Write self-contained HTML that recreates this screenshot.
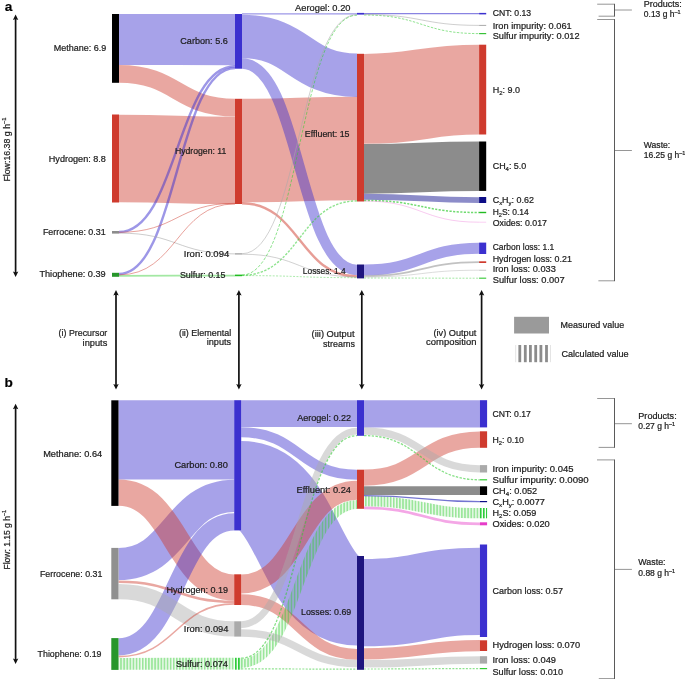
<!DOCTYPE html>
<html><head><meta charset="utf-8"><style>
html,body{margin:0;padding:0;background:#fff;}
body{width:685px;height:679px;overflow:hidden;position:relative;}
svg{position:absolute;left:0;top:0;will-change:transform;}
text{font-family:"Liberation Sans",sans-serif;fill:#1c1c1c;stroke:#1c1c1c;stroke-width:0.22px;}
</style></head><body>
<svg width="685" height="679" viewBox="0 0 685 679">
<defs>
<pattern id="gstripe" patternUnits="userSpaceOnUse" x="2.43" y="0" width="3.099" height="10">
<rect x="0" y="0" width="3.099" height="10" fill="#33cc33" fill-opacity="0.07"/>
<rect x="0" y="0" width="1.75" height="10" fill="#33cc33" fill-opacity="0.45"/>
</pattern>
<pattern id="gstripeD" patternUnits="userSpaceOnUse" x="2.5" y="0" width="3.099" height="10">
<rect x="0" y="0" width="1.9" height="10" fill="#2ecc3a"/>
</pattern>
</defs>
<path d="M242,150.55C299.5,150.55 299.5,148.50 357,148.50" fill="none" stroke="rgb(207,59,46)" stroke-width="103.45" stroke-opacity="0.45" />
<path d="M364,98.85C421.55,98.85 421.55,89.60 479.1,89.60" fill="none" stroke="rgb(207,59,46)" stroke-width="89.95" stroke-opacity="0.45" />
<path d="M241.2,485.70C299.1,485.70 299.1,600.75 357,600.75" fill="none" stroke="rgb(59,48,207)" stroke-width="89.45" stroke-opacity="0.45" />
<path d="M119,158.60C177.0,158.60 177.0,160.40 235,160.40" fill="none" stroke="rgb(207,59,46)" stroke-width="87.50" stroke-opacity="0.45" />
<path d="M364,602.65C421.95,602.65 421.95,591.30 479.9,591.30" fill="none" stroke="rgb(59,48,207)" stroke-width="87.25" stroke-opacity="0.45" />
<path d="M118.5,439.95C176.35,439.95 176.35,439.95 234.2,439.95" fill="none" stroke="rgb(59,48,207)" stroke-width="79.30" stroke-opacity="0.45" />
<path d="M119,39.50C177.0,39.50 177.0,39.60 235,39.60" fill="none" stroke="rgb(59,48,207)" stroke-width="51.10" stroke-opacity="0.45" />
<path d="M364,168.85C421.55,168.85 421.55,166.20 479.1,166.20" fill="none" stroke="#000" stroke-width="49.65" stroke-opacity="0.45" />
<path d="M242,36.50C299.5,36.50 299.5,75.30 357,75.30" fill="none" stroke="rgb(59,48,207)" stroke-width="43.40" stroke-opacity="0.45" />
<path d="M118.5,564.00C176.35,564.00 176.35,495.80 234.2,495.80" fill="none" stroke="rgb(59,48,207)" stroke-width="32.20" stroke-opacity="0.45" />
<path d="M364,413.80C421.95,413.80 421.95,413.80 479.9,413.80" fill="none" stroke="rgb(59,48,207)" stroke-width="27.20" stroke-opacity="0.45" />
<path d="M241.2,413.60C299.1,413.60 299.1,413.60 357,413.60" fill="none" stroke="rgb(59,48,207)" stroke-width="26.80" stroke-opacity="0.45" />
<path d="M118.5,492.70C176.35,492.70 176.35,587.50 234.2,587.50" fill="none" stroke="rgb(207,59,46)" stroke-width="26.20" stroke-opacity="0.45" />
<path d="M241.2,583.95C299.1,583.95 299.1,490.20 357,490.20" fill="none" stroke="rgb(207,59,46)" stroke-width="18.85" stroke-opacity="0.45" />
<path d="M119,73.90C177.0,73.90 177.0,107.60 235,107.60" fill="none" stroke="rgb(207,59,46)" stroke-width="17.70" stroke-opacity="0.45" />
<path d="M118.5,646.85C176.35,646.85 176.35,521.85 234.2,521.85" fill="none" stroke="rgb(59,48,207)" stroke-width="17.20" stroke-opacity="0.45" />
<path d="M364,477.70C421.95,477.70 421.95,439.55 479.9,439.55" fill="none" stroke="rgb(207,59,46)" stroke-width="16.25" stroke-opacity="0.45" />
<path d="M118.5,591.65C176.35,591.65 176.35,628.90 234.2,628.90" fill="none" stroke="#aaaaaa" stroke-width="15.25" stroke-opacity="0.45" />
<path d="M118.5,663.85C176.35,663.85 176.35,663.65 234.2,663.65" fill="none" stroke="url(#gstripe)" stroke-width="11.90" stroke-opacity="1" />
<path d="M364,653.85C421.95,653.85 421.95,645.65 479.9,645.65" fill="none" stroke="rgb(207,59,46)" stroke-width="11.20" stroke-opacity="0.45" />
<path d="M364,269.90C421.55,269.90 421.55,248.30 479.1,248.30" fill="none" stroke="rgb(59,48,207)" stroke-width="11.00" stroke-opacity="0.45" />
<path d="M241.2,599.60C299.1,599.60 299.1,654.30 357,654.30" fill="none" stroke="rgb(207,59,46)" stroke-width="10.70" stroke-opacity="0.45" />
<path d="M242,63.55C299.5,63.55 299.5,269.90 357,269.90" fill="none" stroke="rgb(59,48,207)" stroke-width="10.45" stroke-opacity="0.45" />
<path d="M364,501.15C421.95,501.15 421.95,513.15 479.9,513.15" fill="none" stroke="url(#gstripe)" stroke-width="10.30" stroke-opacity="1" />
<path d="M241.2,432.25C299.1,432.25 299.1,474.75 357,474.75" fill="none" stroke="rgb(59,48,207)" stroke-width="10.00" stroke-opacity="0.45" />
<path d="M241.2,663.50C299.1,663.50 299.1,504.50 357,504.50" fill="none" stroke="url(#gstripe)" stroke-width="9.00" stroke-opacity="1" />
<path d="M364,490.55C421.95,490.55 421.95,490.65 479.9,490.65" fill="none" stroke="#000" stroke-width="8.80" stroke-opacity="0.45" />
<path d="M364,663.75C421.95,663.75 421.95,660.05 479.9,660.05" fill="none" stroke="#aaaaaa" stroke-width="7.50" stroke-opacity="0.45" />
<path d="M241.2,632.90C299.1,632.90 299.1,663.55 357,663.55" fill="none" stroke="#aaaaaa" stroke-width="7.45" stroke-opacity="0.45" />
<path d="M364,431.00C421.95,431.00 421.95,468.80 479.9,468.80" fill="none" stroke="#aaaaaa" stroke-width="7.30" stroke-opacity="0.45" />
<path d="M241.2,624.65C299.1,624.65 299.1,431.10 357,431.10" fill="none" stroke="#aaaaaa" stroke-width="6.85" stroke-opacity="0.45" />
<path d="M364,196.70C421.55,196.70 421.55,200.05 479.1,200.05" fill="none" stroke="#000087" stroke-width="5.85" stroke-opacity="0.45" />
<path d="M364,507.80C421.95,507.80 421.95,523.80 479.9,523.80" fill="none" stroke="#e63cc8" stroke-width="2.70" stroke-opacity="0.45" />
<path d="M118.5,581.8C176.35,581.8 176.35,601.8 234.2,601.8" fill="none" stroke="rgb(207,59,46)" stroke-width="2.6" stroke-opacity="0.45" />
<path d="M119,232.0C177.0,232.0 177.0,66.3 235,66.3" fill="none" stroke="rgb(59,48,207)" stroke-width="2.4" stroke-opacity="0.5" />
<path d="M119,274.0C177.0,274.0 177.0,68.1 235,68.1" fill="none" stroke="rgb(59,48,207)" stroke-width="2.4" stroke-opacity="0.5" />
<path d="M242,203.2C299.5,203.2 299.5,276.4 357,276.4" fill="none" stroke="rgb(207,59,46)" stroke-width="2.4" stroke-opacity="0.5" />
<path d="M119,275.8C177.0,275.8 177.0,275.6 235,275.6" fill="none" stroke="#33cc33" stroke-width="1.8" stroke-opacity="0.45" />
<path d="M364,276.0C421.55,276.0 421.55,262.2 479.1,262.2" fill="none" stroke="#999999" stroke-width="1.7" stroke-opacity="0.6" />
<path d="M118.5,656.6C176.35,656.6 176.35,603.9 234.2,603.9" fill="none" stroke="rgb(207,59,46)" stroke-width="1.6" stroke-opacity="0.45" />
<path d="M364,200.4C421.55,200.4 421.55,212.5 479.1,212.5" fill="none" stroke="#33cc33" stroke-width="1.5" stroke-opacity="0.7" stroke-dasharray="2.2,1.4" />
<path d="M242,275.3C299.5,275.3 299.5,200.9 357,200.9" fill="none" stroke="#33cc33" stroke-width="1.4" stroke-opacity="0.55" stroke-dasharray="2.4,1.4" />
<path d="M242,13.9C299.5,13.9 299.5,13.9 357,13.9" fill="none" stroke="rgb(59,48,207)" stroke-width="1.3" stroke-opacity="0.5" />
<path d="M364,13.7C421.55,13.7 421.55,13.7 479.1,13.7" fill="none" stroke="rgb(59,48,207)" stroke-width="1.3" stroke-opacity="0.6" />
<path d="M364,435.6C421.95,435.6 421.95,479.8 479.9,479.8" fill="none" stroke="#33cc33" stroke-width="1.3" stroke-opacity="0.6" stroke-dasharray="2.4,1.4" />
<path d="M241.2,658.2C299.1,658.2 299.1,435.6 357,435.6" fill="none" stroke="#33cc33" stroke-width="1.25" stroke-opacity="0.6" stroke-dasharray="2.6,1.5" />
<path d="M241.2,668.9C299.1,668.9 299.1,669.1 357,669.1" fill="none" stroke="#33cc33" stroke-width="1.2" stroke-opacity="0.55" stroke-dasharray="2,1.4" />
<path d="M364,669.0C421.95,669.0 421.95,668.6 479.9,668.6" fill="none" stroke="#33cc33" stroke-width="1.2" stroke-opacity="0.55" stroke-dasharray="2,1.4" />
<path d="M364,495.6C421.95,495.6 421.95,501.6 479.9,501.6" fill="none" stroke="#2a2ab8" stroke-width="1.1" stroke-opacity="0.65" />
<path d="M119,233.1C177.0,233.1 177.0,253.9 235,253.9" fill="none" stroke="#aaaaaa" stroke-width="1.0" stroke-opacity="0.6" />
<path d="M364,15.0C421.55,15.0 421.55,33.6 479.1,33.6" fill="none" stroke="#33cc33" stroke-width="1.0" stroke-opacity="0.55" stroke-dasharray="2.4,1.4" />
<path d="M242,253.7C299.5,253.7 299.5,14.6 357,14.6" fill="none" stroke="#aaaaaa" stroke-width="0.9" stroke-opacity="0.6" />
<path d="M242,254.2C299.5,254.2 299.5,276.9 357,276.9" fill="none" stroke="#aaaaaa" stroke-width="0.9" stroke-opacity="0.6" />
<path d="M242,275.6C299.5,275.6 299.5,277.7 357,277.7" fill="none" stroke="#33cc33" stroke-width="0.9" stroke-opacity="0.45" stroke-dasharray="2,1.4" />
<path d="M364,278.0C421.55,278.0 421.55,278.2 479.1,278.2" fill="none" stroke="#33cc33" stroke-width="0.9" stroke-opacity="0.5" stroke-dasharray="2,1.4" />
<path d="M119,232.3C177.0,232.3 177.0,203.3 235,203.3" fill="none" stroke="rgb(207,59,46)" stroke-width="0.8" stroke-opacity="0.6" />
<path d="M119,274.9C177.0,274.9 177.0,203.9 235,203.9" fill="none" stroke="rgb(207,59,46)" stroke-width="0.8" stroke-opacity="0.6" />
<path d="M242,275.0C299.5,275.0 299.5,15.2 357,15.2" fill="none" stroke="#33cc33" stroke-width="0.8" stroke-opacity="0.7" stroke-dasharray="3,1.6" />
<path d="M364,14.5C421.55,14.5 421.55,25.4 479.1,25.4" fill="none" stroke="#999999" stroke-width="0.8" stroke-opacity="0.6" />
<path d="M364,201.0C421.55,201.0 421.55,222.2 479.1,222.2" fill="none" stroke="#e63cc8" stroke-width="0.6" stroke-opacity="0.45" />
<path d="M364,277.0C421.55,277.0 421.55,270.2 479.1,270.2" fill="none" stroke="#aaaaaa" stroke-width="0.6" stroke-opacity="0.7" />
<rect x="112" y="14" width="7" height="68.8" fill="#000" />
<rect x="112" y="114.5" width="7" height="88.0" fill="rgb(207,59,46)" />
<rect x="112" y="231" width="7" height="2.5999999999999943" fill="#8c8c8c" />
<rect x="112" y="272.8" width="7" height="4.0" fill="#27962b" />
<rect x="235" y="14" width="7" height="54.7" fill="rgb(59,48,207)" />
<rect x="235" y="98.8" width="7" height="105.2" fill="rgb(207,59,46)" />
<rect x="235" y="253.3" width="7" height="1.1999999999999886" fill="#999999" />
<rect x="235" y="274.6" width="7" height="1.599999999999966" fill="#22bb22" />
<rect x="357" y="12.9" width="7" height="1.6999999999999993" fill="rgb(59,48,207)" />
<rect x="357" y="53.8" width="7" height="147.7" fill="rgb(207,59,46)" />
<rect x="357" y="264.5" width="7" height="13.899999999999977" fill="#1e157e" />
<rect x="479.1" y="12.9" width="7.099999999999966" height="1.5" fill="rgb(59,48,207)" />
<rect x="479.1" y="24.9" width="7.099999999999966" height="1.0" fill="#aaaaaa" />
<rect x="479.1" y="33.0" width="7.099999999999966" height="1.2000000000000028" fill="#22bb22" opacity="0.9"/>
<rect x="479.1" y="44.7" width="7.099999999999966" height="89.8" fill="rgb(207,59,46)" />
<rect x="479.1" y="141.5" width="7.099999999999966" height="49.400000000000006" fill="#000" />
<rect x="479.1" y="197.0" width="7.099999999999966" height="6.0" fill="#0c0c86" />
<rect x="479.1" y="211.8" width="7.099999999999966" height="1.3999999999999773" fill="#22bb22" />
<rect x="479.1" y="221.7" width="7.099999999999966" height="1.0" fill="#fbd0f4" />
<rect x="479.1" y="242.6" width="7.099999999999966" height="11.400000000000006" fill="rgb(59,48,207)" />
<rect x="479.1" y="261.3" width="7.099999999999966" height="1.6999999999999886" fill="rgb(207,59,46)" />
<rect x="479.1" y="269.8" width="7.099999999999966" height="0.8000000000000114" fill="#bbbbbb" />
<rect x="479.1" y="277.6" width="7.099999999999966" height="1.1999999999999886" fill="#44cc44" />
<rect x="111.3" y="400.3" width="7.200000000000003" height="105.59999999999997" fill="#000" />
<rect x="111.3" y="547.9" width="7.200000000000003" height="51.39999999999998" fill="#909090" />
<rect x="111.3" y="638.1" width="7.200000000000003" height="31.799999999999955" fill="#27962b" />
<rect x="234.2" y="400.2" width="7" height="130.2" fill="rgb(59,48,207)" />
<rect x="234.2" y="574.3" width="7" height="30.700000000000045" fill="rgb(207,59,46)" />
<rect x="234.2" y="621.3" width="7" height="15.300000000000068" fill="#aaaaaa" />
<rect x="234.2" y="657.8" width="7" height="11.900000000000091" fill="url(#gstripeD)" />
<rect x="357" y="400.2" width="7" height="35.60000000000002" fill="rgb(59,48,207)" />
<rect x="357" y="469.7" width="7" height="39.10000000000002" fill="rgb(207,59,46)" />
<rect x="357" y="556.0" width="7" height="113.79999999999995" fill="#1e157e" />
<rect x="479.9" y="400.2" width="7.2000000000000455" height="27.19999999999999" fill="rgb(59,48,207)" />
<rect x="479.9" y="431.3" width="7.2000000000000455" height="16.5" fill="rgb(207,59,46)" />
<rect x="479.9" y="465.1" width="7.2000000000000455" height="7.399999999999977" fill="#aaaaaa" />
<rect x="479.9" y="479.2" width="7.2000000000000455" height="1.1999999999999886" fill="#33cc33" />
<rect x="479.9" y="486.3" width="7.2000000000000455" height="8.699999999999989" fill="#000" />
<rect x="479.9" y="501.0" width="7.2000000000000455" height="1.1999999999999886" fill="#0c0c86" />
<rect x="479.9" y="508.0" width="7.2000000000000455" height="10.299999999999955" fill="url(#gstripeD)" />
<rect x="479.9" y="522.3" width="7.2000000000000455" height="3.0" fill="#e63cc8" />
<rect x="479.9" y="544.5" width="7.2000000000000455" height="92.5" fill="rgb(59,48,207)" />
<rect x="479.9" y="640.3" width="7.2000000000000455" height="10.700000000000045" fill="rgb(207,59,46)" />
<rect x="479.9" y="656.2" width="7.2000000000000455" height="7.399999999999977" fill="#aaaaaa" />
<rect x="479.9" y="668.0" width="7.2000000000000455" height="1.2000000000000455" fill="#33cc33" />

<g stroke="#8a8a8a" stroke-width="0.9" fill="none">
<path d="M597.2,4.2H614.3"/><path d="M598.6,16.2H614.3"/><path d="M614.3,10H631.9"/>
<path d="M597.2,19.5H614.3"/><path d="M598.4,280.8H614.3"/><path d="M614.3,150.5H631.9"/>
<path d="M597.2,398.5H614.3"/><path d="M598.6,447.4H614.3"/><path d="M614.3,423.7H631.9"/>
<path d="M597,459.9H614.3"/><path d="M598.8,678.6H614.3"/><path d="M614.3,569.4H631.9"/>
</g>
<g stroke="#5a5a5a" stroke-width="1" fill="none">
<path d="M614.5,3.8V16.6"/><path d="M614.5,19.1V281.2"/>
<path d="M614.5,398.1V447.8"/><path d="M614.5,459.5V679"/>
</g>
<g stroke="#111" stroke-width="1.7" fill="none">
<line x1="15.6" y1="18.5" x2="15.6" y2="273"/>
<line x1="15.6" y1="407.5" x2="15.6" y2="660"/>
<line x1="116" y1="294" x2="116" y2="385.5"/>
<line x1="238.9" y1="294" x2="238.9" y2="385.5"/>
<line x1="361.8" y1="294" x2="361.8" y2="385.5"/>
<line x1="481.6" y1="294" x2="481.6" y2="385.5"/>
</g>
<g fill="#111">
<path d="M15.6,14.5L18.3,20.1L15.6,19.1L12.899999999999999,20.1Z"/><path d="M15.6,277L18.3,271.4L15.6,272.4L12.899999999999999,271.4Z"/><path d="M15.6,403.7L18.3,409.3L15.6,408.3L12.899999999999999,409.3Z"/><path d="M15.6,664L18.3,658.4L15.6,659.4L12.899999999999999,658.4Z"/><path d="M116,290L118.7,295.6L116,294.6L113.3,295.6Z"/><path d="M116,389.5L118.7,383.9L116,384.9L113.3,383.9Z"/><path d="M238.9,290L241.6,295.6L238.9,294.6L236.20000000000002,295.6Z"/><path d="M238.9,389.5L241.6,383.9L238.9,384.9L236.20000000000002,383.9Z"/><path d="M361.8,290L364.5,295.6L361.8,294.6L359.1,295.6Z"/><path d="M361.8,389.5L364.5,383.9L361.8,384.9L359.1,383.9Z"/><path d="M481.6,290L484.3,295.6L481.6,294.6L478.90000000000003,295.6Z"/><path d="M481.6,389.5L484.3,383.9L481.6,384.9L478.90000000000003,383.9Z"/></g>

<rect x="514.1" y="316.8" width="34.9" height="16.7" fill="#9a9a9a"/>
<g fill="#8c8c8c">
<rect x="518.4" y="345" width="2.8" height="17.2"/>
<rect x="523.9" y="345" width="2.8" height="17.2"/>
<rect x="529.0" y="345" width="2.8" height="17.2"/>
<rect x="534.3" y="345" width="2.8" height="17.2"/>
<rect x="539.5" y="345" width="2.8" height="17.2"/>
<rect x="545.1" y="345" width="2.8" height="17.2"/>
</g>
<rect x="515.2" y="345" width="1" height="17.2" fill="#e4e4e4"/>
<rect x="550.0" y="345" width="1" height="17.2" fill="#e4e4e4"/>

<text x="106.3" y="51.3" text-anchor="end" font-size="9" textLength="52.5" lengthAdjust="spacingAndGlyphs" >Methane: 6.9</text>
<text x="105.9" y="161.6" text-anchor="end" font-size="9" textLength="57.1" lengthAdjust="spacingAndGlyphs" >Hydrogen: 8.8</text>
<text x="105.7" y="234.8" text-anchor="end" font-size="9" textLength="62.8" lengthAdjust="spacingAndGlyphs" >Ferrocene: 0.31</text>
<text x="105.7" y="277.1" text-anchor="end" font-size="9" textLength="66.3" lengthAdjust="spacingAndGlyphs" >Thiophene: 0.39</text>
<text x="227.8" y="43.8" text-anchor="end" font-size="9" textLength="47.5" lengthAdjust="spacingAndGlyphs" >Carbon: 5.6</text>
<text x="226.3" y="154.1" text-anchor="end" font-size="9" textLength="51.4" lengthAdjust="spacingAndGlyphs" >Hydrogen: 11</text>
<text x="229.2" y="256.9" text-anchor="end" font-size="9" textLength="45.4" lengthAdjust="spacingAndGlyphs" >Iron: 0.094</text>
<text x="225.5" y="278" text-anchor="end" font-size="9" textLength="45.6" lengthAdjust="spacingAndGlyphs" >Sulfur: 0.15</text>
<text x="350.5" y="10.7" text-anchor="end" font-size="9" textLength="55.4" lengthAdjust="spacingAndGlyphs" >Aerogel: 0.20</text>
<text x="349.5" y="136.9" text-anchor="end" font-size="9" textLength="44.7" lengthAdjust="spacingAndGlyphs" >Effluent: 15</text>
<text x="345.7" y="273.8" text-anchor="end" font-size="9" textLength="42.9" lengthAdjust="spacingAndGlyphs" >Losses: 1.4</text>
<text x="492.7" y="16.4" text-anchor="start" font-size="9" textLength="38.5" lengthAdjust="spacingAndGlyphs" >CNT: 0.13</text>
<text x="492.7" y="29.2" text-anchor="start" font-size="9" textLength="79" lengthAdjust="spacingAndGlyphs" >Iron impurity: 0.061</text>
<text x="492.7" y="38.6" text-anchor="start" font-size="9" textLength="86.9" lengthAdjust="spacingAndGlyphs" >Sulfur impurity: 0.012</text>
<text x="492.7" y="92.7" text-anchor="start" font-size="9" textLength="27.3" lengthAdjust="spacingAndGlyphs" >H<tspan font-size="6" baseline-shift="-2">2</tspan>: 9.0</text>
<text x="492.7" y="169.2" text-anchor="start" font-size="9" textLength="33.6" lengthAdjust="spacingAndGlyphs" >CH<tspan font-size="6" baseline-shift="-2">4</tspan>: 5.0</text>
<text x="492.7" y="202.7" text-anchor="start" font-size="9" textLength="41.2" lengthAdjust="spacingAndGlyphs" >C<tspan font-size="6" baseline-shift="-2">x</tspan>H<tspan font-size="6" baseline-shift="-2">y</tspan>: 0.62</text>
<text x="492.7" y="214.6" text-anchor="start" font-size="9" textLength="36.1" lengthAdjust="spacingAndGlyphs" >H<tspan font-size="6" baseline-shift="-2">2</tspan>S: 0.14</text>
<text x="492.7" y="225.8" text-anchor="start" font-size="9" textLength="54.30000000000001" lengthAdjust="spacingAndGlyphs" >Oxides: 0.017</text>
<text x="492.7" y="250" text-anchor="start" font-size="9" textLength="61.599999999999966" lengthAdjust="spacingAndGlyphs" >Carbon loss: 1.1</text>
<text x="492.7" y="261.6" text-anchor="start" font-size="9" textLength="79.19999999999999" lengthAdjust="spacingAndGlyphs" >Hydrogen loss: 0.21</text>
<text x="492.7" y="272.2" text-anchor="start" font-size="9" textLength="63.099999999999966" lengthAdjust="spacingAndGlyphs" >Iron loss: 0.033</text>
<text x="492.7" y="283.2" text-anchor="start" font-size="9" textLength="71.90000000000003" lengthAdjust="spacingAndGlyphs" >Sulfur loss: 0.007</text>
<text x="643.8" y="6.7" text-anchor="start" font-size="8.5" textLength="38" lengthAdjust="spacingAndGlyphs" >Products:</text>
<text x="643.8" y="16.9" text-anchor="start" font-size="8.5" >0.13 g h<tspan font-size="5.5" baseline-shift="3.5">–1</tspan></text>
<text x="643.8" y="147.8" text-anchor="start" font-size="8.5" textLength="26.4" lengthAdjust="spacingAndGlyphs" >Waste:</text>
<text x="643.8" y="157.9" text-anchor="start" font-size="8.5" >16.25 g h<tspan font-size="5.5" baseline-shift="3.5">–1</tspan></text>
<text x="107.3" y="335.8" text-anchor="end" font-size="9" textLength="48.7" lengthAdjust="spacingAndGlyphs" >(i) Precursor</text>
<text x="107.3" y="345.5" text-anchor="end" font-size="9" textLength="24.7" lengthAdjust="spacingAndGlyphs" >inputs</text>
<text x="231.2" y="335.8" text-anchor="end" font-size="9" textLength="52.3" lengthAdjust="spacingAndGlyphs" >(ii) Elemental</text>
<text x="231.2" y="345.3" text-anchor="end" font-size="9" textLength="24.5" lengthAdjust="spacingAndGlyphs" >inputs</text>
<text x="354.5" y="336.9" text-anchor="end" font-size="9" textLength="42.9" lengthAdjust="spacingAndGlyphs" >(iii) Output</text>
<text x="354.9" y="347.4" text-anchor="end" font-size="9" textLength="31.8" lengthAdjust="spacingAndGlyphs" >streams</text>
<text x="476.4" y="335.5" text-anchor="end" font-size="9" textLength="42.9" lengthAdjust="spacingAndGlyphs" >(iv) Output</text>
<text x="476.4" y="345" text-anchor="end" font-size="9" textLength="50.3" lengthAdjust="spacingAndGlyphs" >composition</text>
<text x="560.6" y="328.2" text-anchor="start" font-size="9" textLength="63.6" lengthAdjust="spacingAndGlyphs" >Measured value</text>
<text x="561.4" y="357.4" text-anchor="start" font-size="9" textLength="67.3" lengthAdjust="spacingAndGlyphs" >Calculated value</text>
<text x="102.2" y="456.6" text-anchor="end" font-size="9" textLength="59" lengthAdjust="spacingAndGlyphs" >Methane: 0.64</text>
<text x="102.4" y="576.9" text-anchor="end" font-size="9" textLength="62.5" lengthAdjust="spacingAndGlyphs" >Ferrocene: 0.31</text>
<text x="101.5" y="657.3" text-anchor="end" font-size="9" textLength="63.9" lengthAdjust="spacingAndGlyphs" >Thiophene: 0.19</text>
<text x="227.8" y="468.3" text-anchor="end" font-size="9" textLength="53.4" lengthAdjust="spacingAndGlyphs" >Carbon: 0.80</text>
<text x="228" y="593" text-anchor="end" font-size="9" textLength="61.6" lengthAdjust="spacingAndGlyphs" >Hydrogen: 0.19</text>
<text x="228.5" y="631.9" text-anchor="end" font-size="9" textLength="44.7" lengthAdjust="spacingAndGlyphs" >Iron: 0.094</text>
<text x="228" y="667.1" text-anchor="end" font-size="9" textLength="52.1" lengthAdjust="spacingAndGlyphs" >Sulfur: 0.074</text>
<text x="351.1" y="421.1" text-anchor="end" font-size="9" textLength="53.9" lengthAdjust="spacingAndGlyphs" >Aerogel: 0.22</text>
<text x="351" y="493" text-anchor="end" font-size="9" textLength="54.5" lengthAdjust="spacingAndGlyphs" >Effluent: 0.24</text>
<text x="351.3" y="614.8" text-anchor="end" font-size="9" textLength="50.3" lengthAdjust="spacingAndGlyphs" >Losses: 0.69</text>
<text x="492.5" y="417.2" text-anchor="start" font-size="9" textLength="38.4" lengthAdjust="spacingAndGlyphs" >CNT: 0.17</text>
<text x="492.5" y="442.9" text-anchor="start" font-size="9" textLength="31.4" lengthAdjust="spacingAndGlyphs" >H<tspan font-size="6" baseline-shift="-2">2</tspan>: 0.10</text>
<text x="492.5" y="472.3" text-anchor="start" font-size="9" textLength="81" lengthAdjust="spacingAndGlyphs" >Iron impurity: 0.045</text>
<text x="492.5" y="483.1" text-anchor="start" font-size="9" textLength="96.2" lengthAdjust="spacingAndGlyphs" >Sulfur impurity: 0.0090</text>
<text x="492.5" y="493.8" text-anchor="start" font-size="9" textLength="44.7" lengthAdjust="spacingAndGlyphs" >CH<tspan font-size="6" baseline-shift="-2">4</tspan>: 0.052</text>
<text x="492.5" y="504.7" text-anchor="start" font-size="9" textLength="52.4" lengthAdjust="spacingAndGlyphs" >C<tspan font-size="6" baseline-shift="-2">x</tspan>H<tspan font-size="6" baseline-shift="-2">y</tspan>: 0.0077</text>
<text x="492.5" y="516.1" text-anchor="start" font-size="9" textLength="43.8" lengthAdjust="spacingAndGlyphs" >H<tspan font-size="6" baseline-shift="-2">2</tspan>S: 0.059</text>
<text x="492.5" y="527.1" text-anchor="start" font-size="9" textLength="57.299999999999955" lengthAdjust="spacingAndGlyphs" >Oxides: 0.020</text>
<text x="492.5" y="594" text-anchor="start" font-size="9" textLength="70.5" lengthAdjust="spacingAndGlyphs" >Carbon loss: 0.57</text>
<text x="492.5" y="648.3" text-anchor="start" font-size="9" textLength="87.60000000000002" lengthAdjust="spacingAndGlyphs" >Hydrogen loss: 0.070</text>
<text x="492.5" y="662.9" text-anchor="start" font-size="9" textLength="63.5" lengthAdjust="spacingAndGlyphs" >Iron loss: 0.049</text>
<text x="492.5" y="675" text-anchor="start" font-size="9" textLength="70.5" lengthAdjust="spacingAndGlyphs" >Sulfur loss: 0.010</text>
<text x="638.3" y="418.9" text-anchor="start" font-size="8.5" textLength="38.4" lengthAdjust="spacingAndGlyphs" >Products:</text>
<text x="638.3" y="429.4" text-anchor="start" font-size="8.5" >0.27 g h<tspan font-size="5.5" baseline-shift="3.5">–1</tspan></text>
<text x="638.3" y="565.1" text-anchor="start" font-size="8.5" textLength="27.3" lengthAdjust="spacingAndGlyphs" >Waste:</text>
<text x="638.3" y="575.8" text-anchor="start" font-size="8.5" >0.88 g h<tspan font-size="5.5" baseline-shift="3.5">–1</tspan></text>
<text x="4.8" y="11.3" font-size="13.6" font-weight="bold" style="fill:#000">a</text>
<text x="4.6" y="387" font-size="13.6" font-weight="bold" style="fill:#000">b</text>
<text transform="translate(9.6,181.6) rotate(-90)" font-size="8.5" textLength="64" lengthAdjust="spacingAndGlyphs">Flow:16.38 g h<tspan font-size="5.5" dy="-3.5">–1</tspan></text>
<text transform="translate(9.6,569.5) rotate(-90)" font-size="8.5">Flow: 1.15 g h<tspan font-size="5.5" dy="-3.5">–1</tspan></text>
</svg>
</body></html>
